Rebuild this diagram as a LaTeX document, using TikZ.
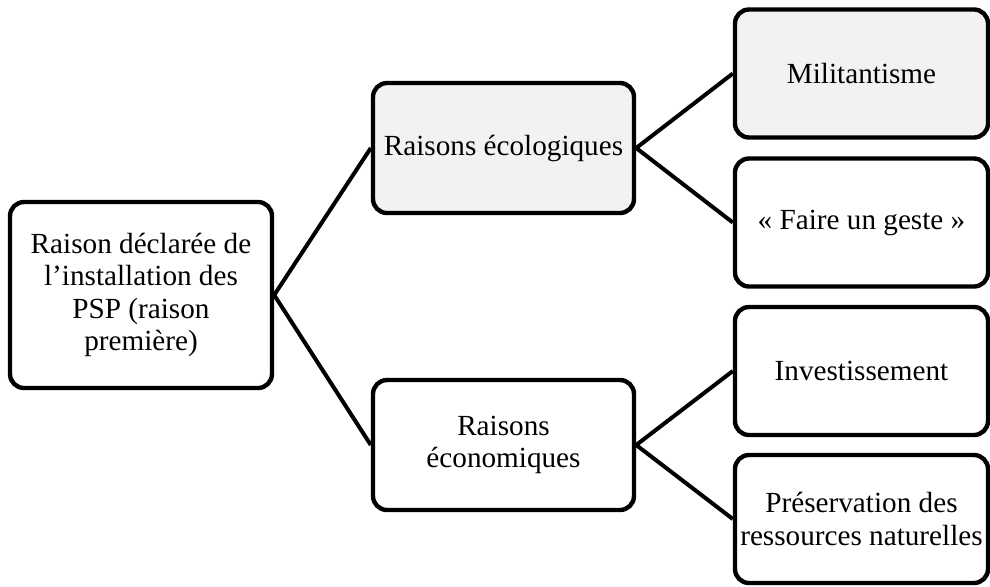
\documentclass[tikz,border=0pt]{standalone}
\usepackage{fontspec}
\setmainfont{Liberation Serif}
\usepackage{xcolor}
\definecolor{hopxam}{HTML}{F2F2F2}
\definecolor{vienden}{HTML}{000000}
\def\maunen{hopxam}
\def\mauvien{vienden}
\usetikzlibrary{positioning}
\begin{document}
\begin{tikzpicture}[x=0.5pt,y=-0.5pt]
		\tikzstyle{hopstyle} = [draw=\mauvien,line width=2.2pt,rounded corners=7pt,fill=white,align=center,inner sep=2pt,font=\fontsize{14.6}{16.2}\selectfont]
		\tikzstyle{hopgoc} = [hopstyle,minimum width=131pt,minimum height=93pt]
		\tikzstyle{hopgiua} = [hopstyle,minimum width=130.5pt,minimum height=65pt]
		\tikzstyle{hopla} = [hopstyle,minimum width=126.5pt,minimum height=64pt]
		\tikzstyle{noistyle} = [line width=2pt,\mauvien]
		\useasboundingbox (0,0) rectangle (990,586);
		\node[hopgoc] (goc) at (141,295) {Raison déclarée de\\l’installation des\\PSP (raison\\première)};
		\node[hopgiua,fill=\maunen] (ecolo) at (503.5,148) {Raisons écologiques};
		\node[hopgiua] (econo) at (503.5,445) {Raisons\\économiques};
		\node[hopla,fill=\maunen] (milit) at (861.5,73.5) {Militantisme};
		\node[hopla] (geste) at (861.5,222.5) {« Faire un geste »};
		\node[hopla] (invest) at (861.5,371) {Investissement};
		\node[hopla] (preserv) at (861.5,519) {Préservation des\\ressources naturelles};
		\draw[noistyle] (goc.east)--(ecolo.west);
		\draw[noistyle] (goc.east)--(econo.west);
		\draw[noistyle] (ecolo.east)--(milit.west);
		\draw[noistyle] (ecolo.east)--(geste.west);
		\draw[noistyle] (econo.east)--(invest.west);
		\draw[noistyle] (econo.east)--(preserv.west);
	\end{tikzpicture}
\end{document}
